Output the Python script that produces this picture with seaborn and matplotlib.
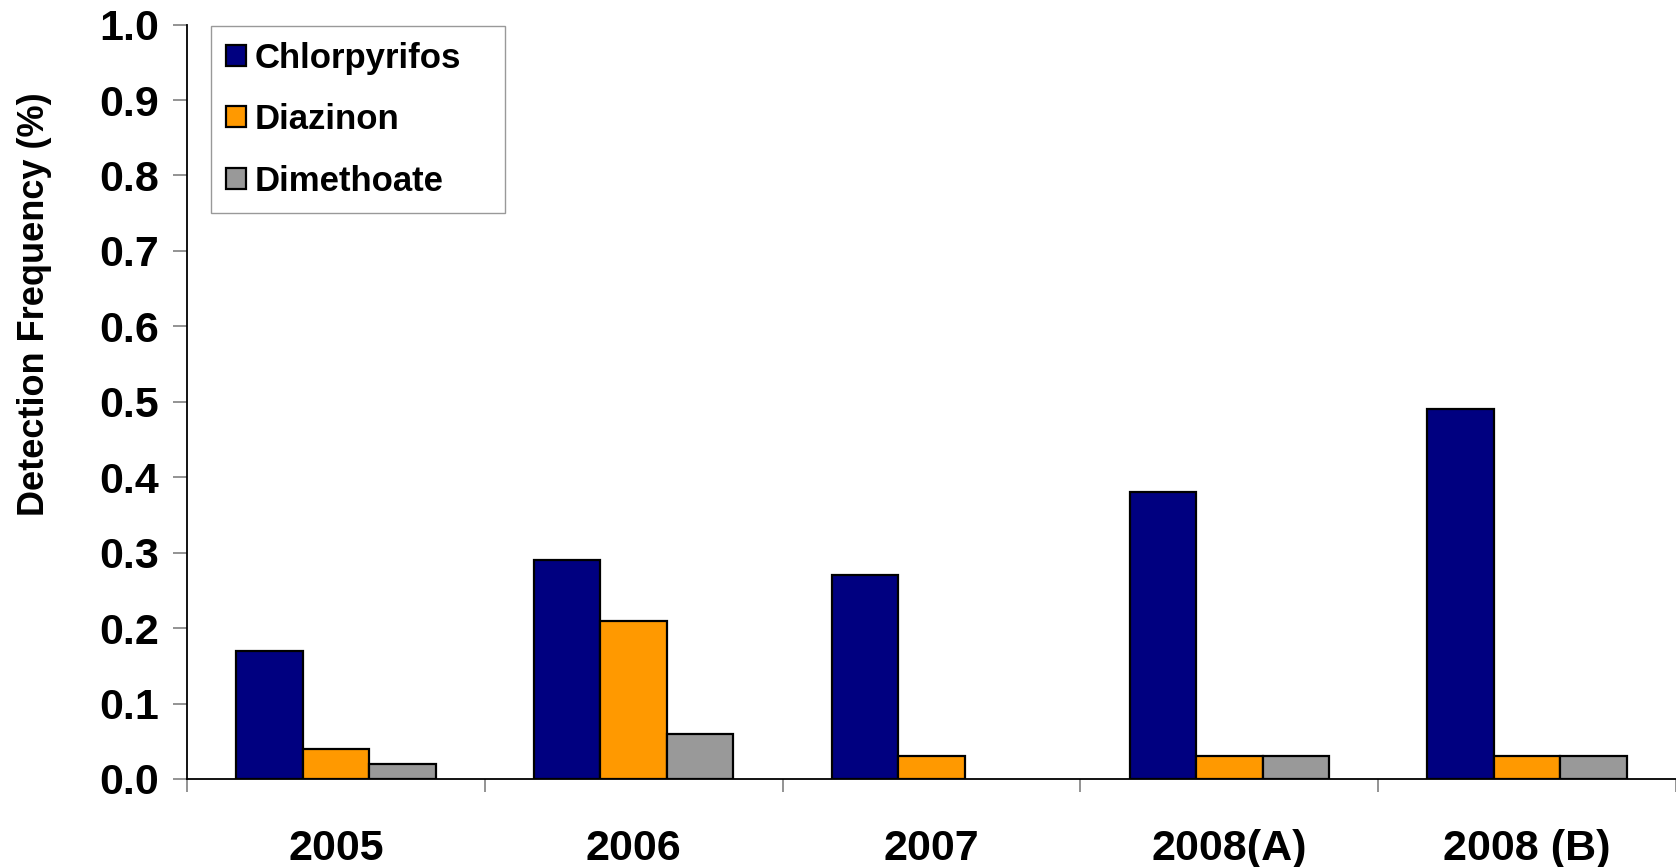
import numpy as np
import pandas as pd
import matplotlib
matplotlib.use("Agg")
import matplotlib.pyplot as plt
import seaborn as sns

years = ["2005", "2006", "2007", "2008(A)", "2008 (B)"]
chlorpyrifos = [0.17, 0.29, 0.27, 0.38, 0.49]
diazinon = [0.04, 0.21, 0.03, 0.03, 0.03]
dimethoate = [0.02, 0.06, np.nan, 0.03, 0.03]
pesticides = ["Chlorpyrifos", "Diazinon", "Dimethoate"]
colors = ["#000080", "#FF9900", "#999999"]
y_ticks = [0.0, 0.1, 0.2, 0.3, 0.4, 0.5, 0.6, 0.7, 0.8, 0.9, 1.0]

# long table for seaborn
df = pd.DataFrame({
    "year": years * 3,
    "pesticide": [p for p in pesticides for _ in years],
    "freq": chlorpyrifos + diazinon + dimethoate,
})

sns.set_style("white")
plt.rcParams["font.family"] = ["Liberation Sans", "DejaVu Sans"]
plt.rcParams["text.color"] = "black"
plt.rcParams["axes.labelcolor"] = "black"
plt.rcParams["xtick.color"] = "black"
plt.rcParams["ytick.color"] = "black"

fig = plt.figure(figsize=(16.76, 8.67), dpi=100)
ax = fig.add_axes([0.1116, 0.1015, 0.8884, 0.8701])

sns.barplot(
    data=df, x="year", y="freq", hue="pesticide",
    order=years, hue_order=pesticides, palette=colors,
    width=0.67, edgecolor="black", linewidth=1.6,
    saturation=1, ax=ax,
)

ax.set_xlim(-0.5, len(years) - 0.5)
ax.set_ylim(0, 1.0)
ax.set_yticks(y_ticks)
ax.set_yticklabels([f"{t:.1f}" for t in y_ticks])

narrow = ["Liberation Sans Narrow", "Liberation Sans", "DejaVu Sans"]
for lab in ax.get_yticklabels():
    lab.set_fontfamily(narrow)
    lab.set_fontweight("bold")
    lab.set_fontsize(31)
for lab in ax.get_xticklabels():
    lab.set_fontfamily(narrow)
    lab.set_fontweight("bold")
    lab.set_fontsize(31)

ax.tick_params(axis="y", left=True, length=10, width=1.2, color="#808080",
               labelcolor="black", pad=10, direction="out")
ax.tick_params(axis="x", which="major", bottom=True, length=0, pad=36, labelcolor="black")
ax.set_xticks(np.arange(-0.5, len(years), 1.0), minor=True)
ax.tick_params(axis="x", which="minor", bottom=True, length=9, width=1.2,
               color="#808080", direction="out")

ax.set_xlabel("")
ax.set_ylabel("Detection Frequency (%)", fontsize=26, fontweight="bold", color="black")
ax.yaxis.set_label_coords(-0.091, 0.629)

for side in ["top", "right"]:
    ax.spines[side].set_visible(False)
for side in ["left", "bottom"]:
    ax.spines[side].set_color("black")
    ax.spines[side].set_linewidth(1.3)

handles, labels = ax.get_legend_handles_labels()
leg = ax.legend(
    handles, labels, loc="upper left", bbox_to_anchor=(0.016, 0.998, 0.1975, 0.0),
    mode="expand", prop={"weight": "bold", "size": 25}, frameon=True, fancybox=False,
    edgecolor="#808080", handlelength=0.55, handleheight=0.55,
    handletextpad=0.25, labelspacing=0.82, borderpad=0.45, borderaxespad=0,
)
leg.get_frame().set_linewidth(1.0)
for t in leg.get_texts():
    t.set_color("black")

fig.savefig("out.png", dpi=100)
